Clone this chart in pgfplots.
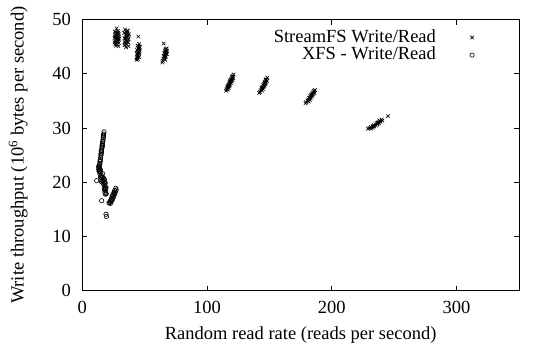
\documentclass[border=0pt]{standalone}
\usepackage{pgfplots}
\pgfplotsset{compat=1.18}
\usepackage{fontspec}
\setmainfont{Liberation Serif}
\begin{document}
\fontsize{18.5}{21}\selectfont
\begin{tikzpicture}
\useasboundingbox (-82.3pt,-54.3pt) rectangle (467.7pt,290.7pt);
\begin{axis}[
  at={(0,0)}, anchor=south west,
  scale only axis, width=436.7pt, height=271pt,
  xmin=0, xmax=350, ymin=0, ymax=50,
  xtick={0,100,200,300}, ytick={0,10,20,30,40,50},
  tick align=inside, tick pos=both,
  major tick length=5pt,
  every tick/.style={black, line width=0.8pt},
  axis line style={line width=0.9pt},
  /pgf/number format/assume math mode=true,
  ticklabel style={font=\fontsize{18.5}{21}\selectfont},
  yticklabel style={xshift=-5pt},
  xticklabel style={yshift=-4pt},
  xlabel={Random read rate (reads per second)},
  ylabel={Write throughput (10\textsuperscript{6} bytes per second)},
  xlabel style={at={(axis description cs:0.5,-0.165)}, anchor=center},
  ylabel style={at={(axis description cs:-0.147,0.5)}, anchor=center},
  clip=false,
  legend style={draw=none, fill=none, at={(axis description cs:0.905,0.975)}, anchor=north east,
    legend cell align=right, column sep=34pt, row sep=0pt,
    nodes={inner sep=0pt, text height=13.5pt, text depth=4.1pt},
    font=\fontsize{18.5}{21}\selectfont},
  legend plot pos=right,
]
\addplot[only marks, mark=x, mark size=2.5pt, mark options={line width=0.6pt, black}] coordinates {
(27.5,48.4)(26.2,47.8)(28.9,47.6)(26.5,47.2)(29.3,47.3)(27.1,46.9)(28.3,46.8)(25.9,46.6)(29.6,46.5)(26.8,46.3)(28.7,46.1)(27.4,45.9)(25.8,45.8)(29.2,45.7)(26.5,45.5)(28.1,45.4)(27.0,45.2)(29.0,45.1)(26.1,46.9)(28.5,47.9)(27.8,47.1)(27.2,45.6)(28.8,46.4)(26.3,46.0)(27.6,47.5)(27.9,46.2)(26.7,47.6)(28.2,45.9)(27.3,46.6)(29.4,46.9)
(34.2,48.2)(36.5,48.0)(33.5,47.6)(35.8,47.5)(37.4,47.3)(34.6,47.0)(36.2,46.8)(33.8,46.6)(37.1,46.4)(35.2,46.2)(34.0,45.9)(36.7,45.8)(35.5,45.5)(33.9,45.3)(37.0,45.1)(35.0,44.9)(36.0,47.9)(34.8,46.5)(36.3,45.9)(35.6,47.2)(35.1,47.7)(36.0,46.0)(34.4,45.6)(36.9,47.0)(35.3,46.7)
(44.9,46.9)(45.6,45.5)(44.3,45.2)(46.1,45.0)(44.8,44.8)(45.3,44.5)(43.9,44.4)(46.0,44.3)(44.5,44.0)(45.4,43.8)(43.8,43.7)(45.0,43.5)(44.2,43.2)(45.5,43.1)(43.6,42.9)(44.7,42.7)(43.6,42.6)(45.9,44.7)(44.1,43.9)(45.2,45.1)(44.6,43.4)(45.7,44.0)
(65.2,45.6)(67.6,44.7)(66.6,44.5)(68.0,44.3)(66.2,44.2)(67.3,44.0)(65.8,43.8)(67.8,43.7)(66.5,43.5)(65.4,43.3)(67.0,43.2)(66.0,43.0)(65.1,42.8)(66.4,42.6)(64.5,42.4)(64.1,42.1)(67.5,44.1)(66.8,43.7)(67.2,44.6)(65.7,43.1)(66.3,43.9)
(121.2,39.9)(120.5,39.6)(119.8,39.3)(121.0,39.2)(119.2,39.0)(120.4,38.9)(118.6,38.7)(119.7,38.6)(117.9,38.4)(119.1,38.3)(117.4,38.1)(118.5,38.0)(116.8,37.8)(117.9,37.7)(116.2,37.5)(117.3,37.4)(115.6,37.2)(116.6,37.1)(115.2,36.9)(118.8,38.9)(117.0,37.9)(120.1,39.5)(118.2,38.5)(116.4,37.6)(119.5,38.8)
(148.3,39.3)(147.6,39.0)(146.9,38.8)(148.0,38.7)(146.2,38.5)(147.3,38.4)(145.6,38.2)(146.7,38.1)(144.9,37.9)(146.0,37.8)(144.3,37.6)(145.4,37.5)(143.6,37.3)(144.7,37.2)(143.0,37.0)(144.0,36.9)(142.4,36.7)(141.8,36.5)(147.0,38.9)(145.2,37.9)(146.4,38.3)(143.9,37.4)
(186.5,37.0)(185.8,36.8)(184.9,36.6)(186.1,36.5)(184.2,36.4)(185.3,36.3)(183.4,36.1)(184.6,36.0)(182.7,35.9)(183.8,35.8)(181.9,35.6)(183.0,35.5)(181.2,35.3)(182.3,35.2)(180.4,35.1)(181.5,34.9)(179.6,34.8)(178.9,34.6)(185.5,36.9)(182.0,35.6)(184.0,36.2)(180.9,35.0)
(245.0,32.2)(239.8,31.6)(238.6,31.3)(237.5,31.1)(239.0,31.2)(236.2,30.9)(237.8,30.9)(235.0,30.7)(236.5,30.7)(233.8,30.5)(235.3,30.5)(232.6,30.3)(234.0,30.3)(231.4,30.2)(232.8,30.1)(230.2,30.0)(231.5,29.9)(229.0,29.9)(240.5,31.4)(238.0,31.4)(236.8,31.0)(233.1,30.4)
};
\addlegendentry{StreamFS Write/Read}
\addplot[only marks, mark=o, mark size=2.2pt, mark options={line width=0.6pt, black}] coordinates {
(17.4,29.3)(17.2,28.9)(17.0,28.5)(16.7,28.0)(16.5,27.6)(16.2,27.2)(16.0,26.7)(15.7,26.3)(15.5,25.9)(15.2,25.4)(15.0,25.0)(14.7,24.6)(14.5,24.2)(14.2,23.8)(14.0,23.4)(13.7,23.0)(13.5,22.6)(13.2,22.3)(16.8,28.3)(15.9,26.9)(14.9,25.2)(14.1,23.5)(13.6,22.8)(15.4,25.6)(16.4,27.5)(16.9,28.7)(15.8,26.5)(14.4,24.0)(13.4,22.4)(15.1,25.8)(16.1,26.9)
(11.5,20.3)(13.0,22.9)(13.8,22.5)(14.5,22.3)(13.5,22.0)(14.8,21.8)(14.2,21.5)(15.2,21.3)(14.6,21.0)(15.6,20.8)(15.0,20.5)(16.0,20.3)(15.4,20.1)(16.3,21.6)(13.9,21.9)(15.3,20.9)
(16.5,20.9)(17.2,20.7)(17.8,20.5)(16.8,20.3)(17.5,20.0)(18.4,19.9)(17.2,19.6)(18.1,19.4)(17.6,19.1)(18.6,18.9)(17.8,18.6)(18.8,18.4)(18.2,18.1)(19.2,17.9)(18.5,17.8)(19.0,19.0)(17.9,19.8)(18.3,18.7)
(15.5,16.6)(19.0,14.1)(19.3,13.7)
(26.8,18.9)(27.2,18.6)(26.0,18.5)(26.5,18.2)(25.3,18.1)(25.9,17.8)(24.6,17.7)(25.2,17.4)(23.9,17.3)(24.5,17.0)(23.2,16.9)(23.8,16.7)(22.6,16.6)(23.1,16.4)(22.0,16.3)(22.5,16.1)(21.4,16.2)(24.0,17.5)(25.6,18.0)(23.5,16.8)
};
\addlegendentry{XFS - Write/Read}
\end{axis}
\end{tikzpicture}
\end{document}
